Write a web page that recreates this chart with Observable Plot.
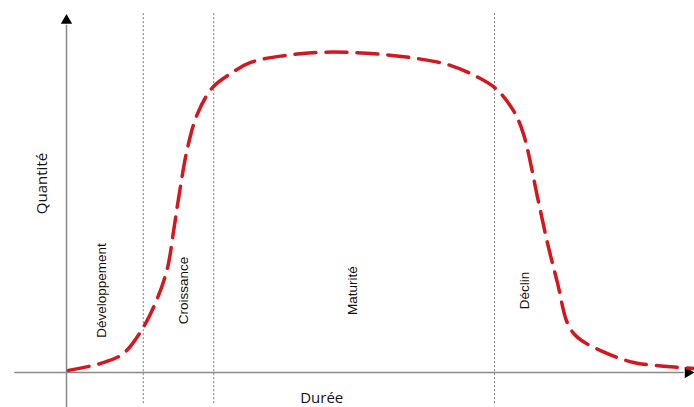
<!DOCTYPE html>
<html>
<head>
<meta charset="utf-8">
<script src="https://cdn.jsdelivr.net/npm/d3@7"></script>
<script src="https://cdn.jsdelivr.net/npm/@observablehq/plot@0.6"></script>
<style>
  html, body { margin: 0; padding: 0; background: #fff; }
  svg { display: block; }
</style>
</head>
<body>
<div id="chart"></div>
<script>
// Curve (time units 0..100, quantity units 0..100)
const curveX = [0.3, 5.4, 9.1, 12.3, 14.6, 16.2, 17.1, 17.9, 19.4, 21.0, 23.4, 26.3, 29.5, 34.8, 40.2, 45.5, 50.8, 56.2, 61.5, 65.9, 68.8, 71.6, 73.2, 75.6, 77.1, 78.7, 80.3, 81.9, 85.6, 90.9, 96.3, 100.5];
const curveY = [0.6, 2.5, 5.3, 12.6, 20.9, 29.3, 38.8, 48.0, 62.8, 72.3, 79.6, 83.5, 86.6, 88.5, 89.4, 89.4, 88.8, 87.7, 85.8, 82.5, 79.3, 73.2, 66.8, 48.0, 36.0, 24.9, 13.7, 9.8, 6.1, 2.8, 1.7, 1.1];

// Phase boundaries and labels
const boundaries = [12.3, 23.6, 68.6];
const phaseNames = ["Développement", "Croissance", "Maturité", "Déclin"];
const phaseLabelX = [5.6, 18.75, 45.8, 73.4];
const phaseLabelY = 22.9;

// Axis titles
const xTitle = "Durée";
const yTitle = "Quantité";

const curve = curveX.map((x, i) => ({x, y: curveY[i]}));
const phases = phaseNames.map((name, i) => ({name, x: phaseLabelX[i], y: phaseLabelY}));

const chart = Plot.plot({
  width: 694,
  height: 407,
  margin: 0,
  style: {background: "#fff"},
  x: {domain: [0, 100], range: [66, 690], axis: null},
  y: {domain: [0, 100], range: [372, 14], axis: null},
  marks: [
    // phase separators
    Plot.ruleX(boundaries, {y1: -8.7, y2: 100.6, stroke: "#777", strokeWidth: 1, strokeDasharray: "2,2"}),
    // axes
    Plot.ruleY([0], {x1: -8.3, x2: 99, stroke: "#8a8a8a", strokeWidth: 1.5}),
    Plot.ruleX([0], {y1: -9.8, y2: 97, stroke: "#8a8a8a", strokeWidth: 1.5}),
    Plot.dot([{x: 99.6, y: 0}], {x: "x", y: "y", symbol: "triangle", r: 4.2, fill: "#000", stroke: "none", rotate: 90}),
    Plot.dot([{x: 0, y: 98.3}], {x: "x", y: "y", symbol: "triangle", r: 4.2, fill: "#000", stroke: "none"}),
    // curve
    Plot.line(curve, {x: "x", y: "y", curve: "catmull-rom", stroke: "#d4161e", strokeWidth: 3.5, strokeDasharray: "21,10"}),
    // phase labels
    Plot.text(phases, {x: "x", y: "y", text: "name", rotate: -90, fontSize: 13.5, fontFamily: "Liberation Sans, Arial, sans-serif", fill: "#111", textAnchor: "middle", lineAnchor: "middle"}),
    // axis titles
    Plot.text([xTitle], {x: 40.9, y: -7.3, text: d => d, fontSize: 15, fontFamily: "Open Sans, sans-serif", fill: "#111", textAnchor: "middle", lineAnchor: "middle"}),
    Plot.text([yTitle], {x: -3.85, y: 52.8, text: d => d, rotate: -90, fontSize: 15, fontFamily: "Open Sans, sans-serif", fill: "#111", textAnchor: "middle", lineAnchor: "middle"})
  ]
});
document.getElementById("chart").appendChild(chart);
</script>
</body>
</html>
